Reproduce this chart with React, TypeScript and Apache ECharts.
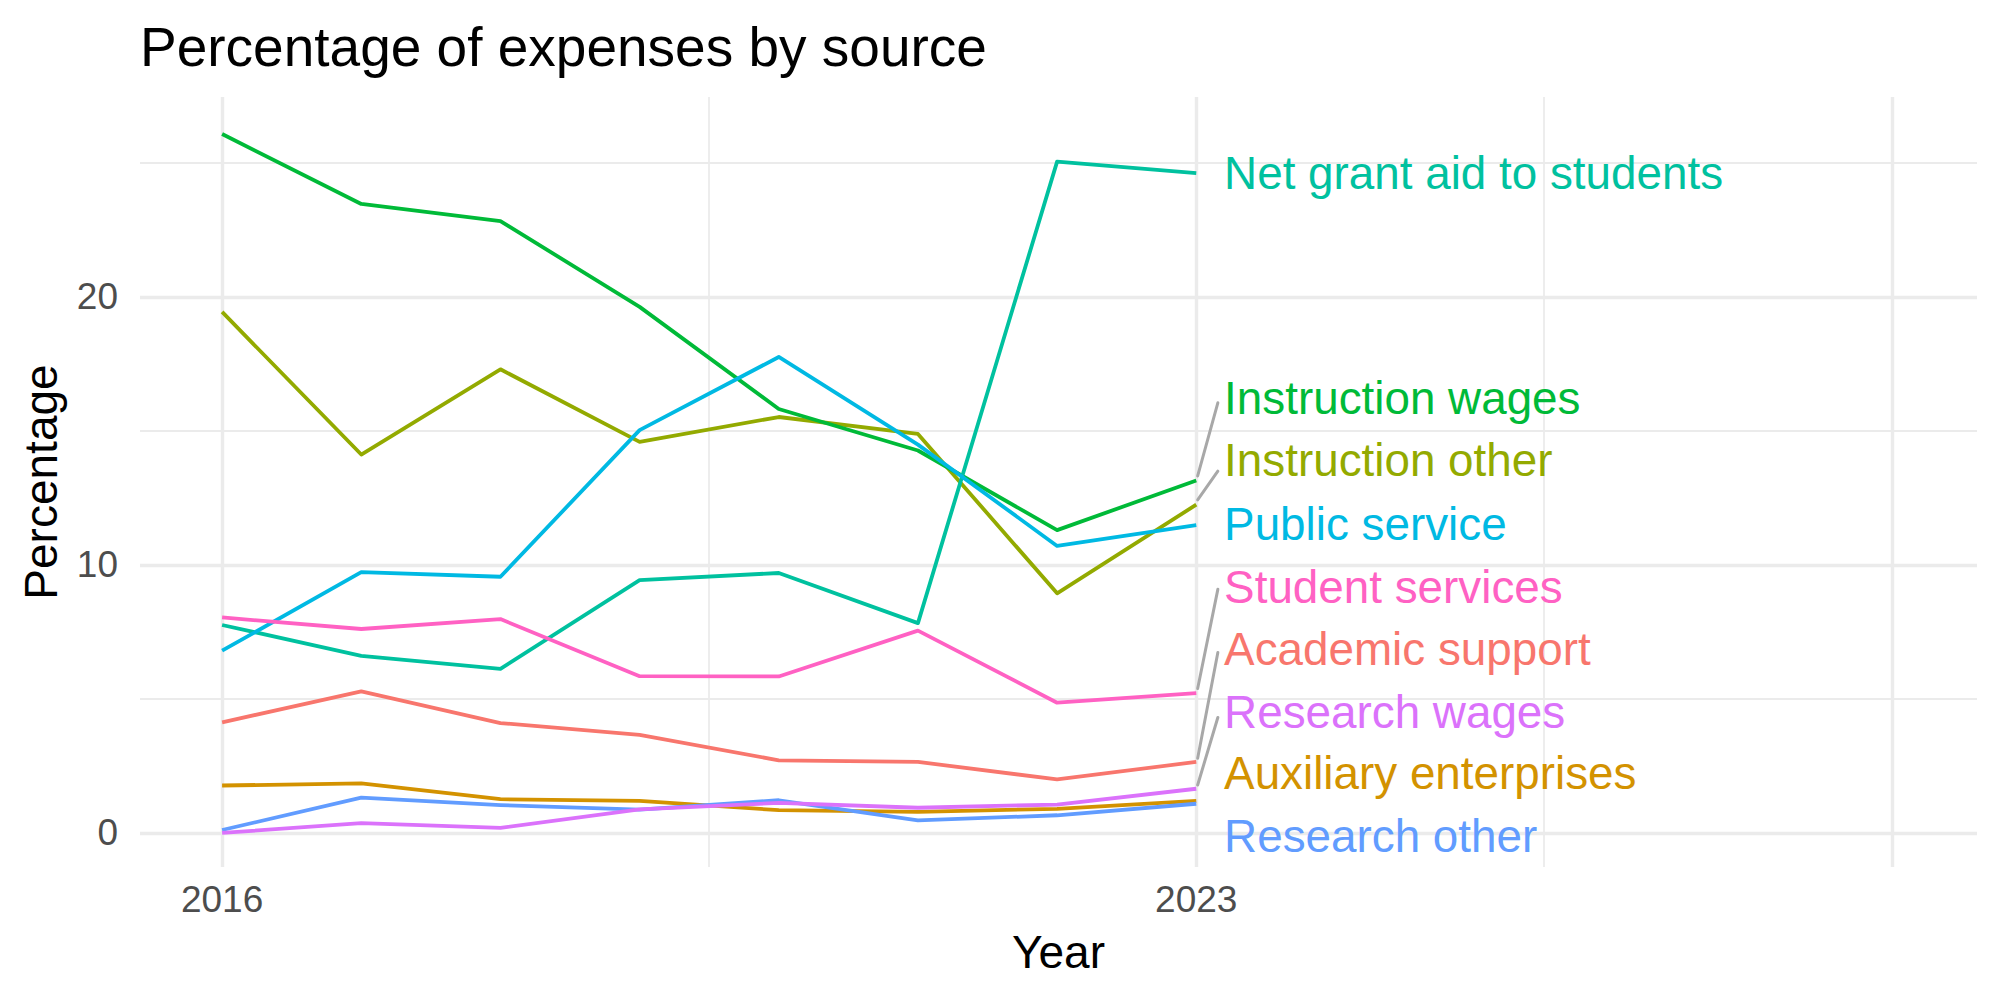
import React, { useEffect, useRef } from "react";
import * as echarts from "echarts";

const years = [2016, 2017, 2018, 2019, 2020, 2021, 2022, 2023];

const seriesNames = [
  "Academic support",
  "Auxiliary enterprises",
  "Instruction other",
  "Instruction wages",
  "Net grant aid to students",
  "Public service",
  "Research other",
  "Research wages",
  "Student services",
];

const seriesColors = [
  "#F8766D",
  "#D39200",
  "#93AA00",
  "#00BA38",
  "#00C19F",
  "#00B9E3",
  "#619CFF",
  "#DB72FB",
  "#FF61C3",
];

const academicSupport = [4.13, 5.28, 4.1, 3.66, 2.71, 2.65, 2.0, 2.65];
const auxiliaryEnterprises = [1.77, 1.85, 1.26, 1.2, 0.85, 0.79, 0.9, 1.2];
const instructionOther = [19.44, 14.12, 17.3, 14.59, 15.52, 14.89, 8.94, 12.25];
const instructionWages = [26.08, 23.47, 22.83, 19.63, 15.82, 14.27, 11.3, 13.15];
const netGrantAid = [7.76, 6.61, 6.12, 9.43, 9.7, 7.83, 25.05, 24.62];
const publicService = [6.8, 9.73, 9.56, 15.03, 17.76, 14.49, 10.71, 11.49];
const researchOther = [0.11, 1.32, 1.04, 0.87, 1.22, 0.47, 0.66, 1.09];
const researchWages = [0.0, 0.37, 0.19, 0.88, 1.12, 0.94, 1.06, 1.65];
const studentServices = [8.04, 7.61, 7.98, 5.85, 5.84, 7.55, 4.86, 5.22];

const seriesValues = [
  academicSupport,
  auxiliaryEnterprises,
  instructionOther,
  instructionWages,
  netGrantAid,
  publicService,
  researchOther,
  researchWages,
  studentServices,
];

// repelled label positions (y, in percentage units), same order as seriesNames
const labelY = [6.83, 2.2, 13.9, 16.2, 24.6, 11.5, -0.12, 4.5, 9.15];
const labelX = 2023.2;

// connector segments (null where the label sits next to its line)
const segStartY = [2.79, null, 12.43, 13.32, null, null, null, 1.79, 5.39];
const segEndY = [6.73, null, 13.5, 16.05, null, null, null, 4.31, 9.09];
const segStartX = 2023.01;
const segEndX = 2023.155;

const xTickLabels = [2016, 2023];
const yTickLabels = [0, 10, 20];
const xMajorGrid = [2016, 2023, 2028];
const xMinorGrid = [2019.5, 2025.5];
const yMajorGrid = [0, 10, 20];
const yMinorGrid = [5, 15, 25];

const FONT = "Liberation Sans, Arial, Helvetica, sans-serif";

export default function App() {
  const ref = useRef<HTMLDivElement>(null);

  useEffect(() => {
    if (!ref.current) return;
    const chart = echarts.init(ref.current, undefined, { renderer: "svg" });

    const gridColor = "#EBEBEB";
    const gridLines: any[] = [];
    xMajorGrid.forEach((v) =>
      gridLines.push({ xAxis: v, lineStyle: { width: 3.4, color: gridColor, type: "solid" } })
    );
    xMinorGrid.forEach((v) =>
      gridLines.push({ xAxis: v, lineStyle: { width: 1.8, color: gridColor, type: "solid" } })
    );
    yMajorGrid.forEach((v) =>
      gridLines.push({ yAxis: v, lineStyle: { width: 3.4, color: gridColor, type: "solid" } })
    );
    yMinorGrid.forEach((v) =>
      gridLines.push({ yAxis: v, lineStyle: { width: 1.8, color: gridColor, type: "solid" } })
    );

    const segments: any[] = [];
    seriesNames.forEach((_, i) => {
      if (segStartY[i] != null && segEndY[i] != null) {
        segments.push([
          { coord: [segStartX, segStartY[i]] },
          { coord: [segEndX, segEndY[i]] },
        ]);
      }
    });

    const lineSeries = seriesNames.map((name, i) => ({
      name,
      type: "line",
      z: 3,
      showSymbol: false,
      symbol: "none",
      silent: true,
      color: seriesColors[i],
      lineStyle: { width: 3.8, color: seriesColors[i], cap: "butt", join: "round" },
      data: years.map((y, j) => [y, seriesValues[i][j]]),
    }));

    const option: any = {
      animation: false,
      backgroundColor: "#FFFFFF",
      textStyle: { fontFamily: FONT },
      title: {
        text: "Percentage of expenses by source",
        left: 135,
        top: 14,
        textStyle: { fontSize: 55, fontWeight: "normal", color: "#000000", fontFamily: FONT },
      },
      grid: { left: 140, right: 23, top: 97, bottom: 133, containLabel: false, outerBoundsMode: "none" },
      xAxis: {
        type: "value",
        min: 2015.41,
        max: 2028.61,
        name: "Year",
        nameLocation: "middle",
        nameGap: 62,
        nameTextStyle: { fontSize: 46, color: "#000000", fontFamily: FONT },
        axisLine: { show: false },
        axisTick: { show: false },
        splitLine: { show: false },
        axisLabel: {
          customValues: xTickLabels,
          fontSize: 37,
          color: "#4D4D4D",
          margin: 14,
          fontFamily: FONT,
          formatter: (v: number) => String(v),
        },
      },
      yAxis: {
        type: "value",
        min: -1.27,
        max: 27.46,
        name: "Percentage",
        nameLocation: "middle",
        nameGap: 76,
        nameTextStyle: { fontSize: 46, color: "#000000", fontFamily: FONT },
        axisLine: { show: false },
        axisTick: { show: false },
        splitLine: { show: false },
        axisLabel: {
          customValues: yTickLabels,
          fontSize: 37,
          color: "#4D4D4D",
          margin: 22,
          fontFamily: FONT,
          formatter: (v: number) => String(v),
        },
      },
      series: [
        {
          name: "grid",
          type: "line",
          z: 1,
          silent: true,
          showSymbol: false,
          symbol: "none",
          lineStyle: { opacity: 0 },
          data: [[2016, 0]],
          markLine: {
            silent: true,
            symbol: ["none", "none"],
            label: { show: false },
            z: 1,
            data: gridLines,
          },
        },
        ...lineSeries,
        {
          name: "segments",
          type: "line",
          z: 4,
          silent: true,
          showSymbol: false,
          symbol: "none",
          lineStyle: { opacity: 0 },
          data: [[2023, 0]],
          markLine: {
            silent: true,
            symbol: ["none", "none"],
            label: { show: false },
            lineStyle: { color: "#A8A8A8", width: 3, type: "solid", cap: "round", opacity: 1 },
            data: segments,
          },
        },
        {
          name: "labels",
          type: "scatter",
          z: 5,
          silent: true,
          symbolSize: 0,
          itemStyle: { opacity: 1 },
          data: seriesNames.map((name, i) => ({
            name,
            value: [labelX, labelY[i]],
            itemStyle: { opacity: 1, color: seriesColors[i] },
            label: {
              show: true,
              position: "right",
              distance: 0,
              formatter: name,
              color: seriesColors[i],
              opacity: 1,
              textBorderWidth: 0,
              fontSize: 45.8,
              fontFamily: FONT,
              align: "left",
              verticalAlign: "middle",
            },
          })),
        },
      ],
    };

    chart.setOption(option);
    return () => chart.dispose();
  }, []);

  return (
    <div
      ref={ref}
      style={{ position: "absolute", left: 0, top: 0, width: 2000, height: 1000 }}
    />
  );
}
